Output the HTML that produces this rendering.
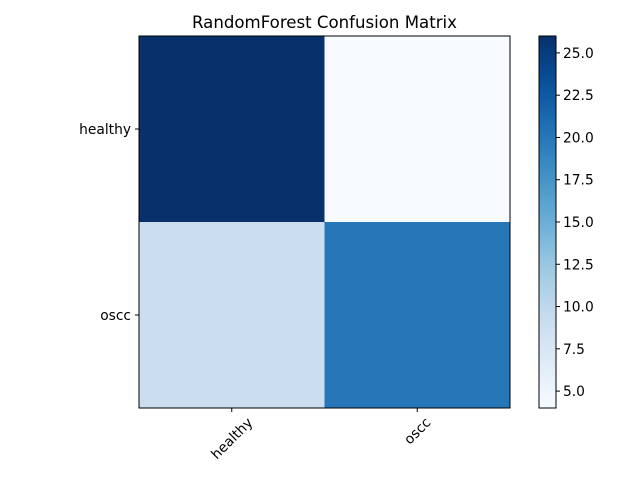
<!DOCTYPE html>
<html><head><meta charset="utf-8"><style>
body{margin:0;background:#fff;font-family:"Liberation Sans","DejaVu Sans",sans-serif;}
svg text{font-family:"DejaVu Sans","Liberation Sans",sans-serif;fill:#000;}
</style></head><body>
<svg id="c" width="640" height="480" xmlns="http://www.w3.org/2000/svg">
<defs><linearGradient id="g" x1="0" y1="1" x2="0" y2="0"></linearGradient></defs>
</svg>
<script>
const categories=["healthy","oscc"];
const rowHealthy=[26,4];
const rowOscc=[9,20];
const cbTicks=[5.0,7.5,10.0,12.5,15.0,17.5,20.0,22.5,25.0];
const title="RandomForest Confusion Matrix";
const matrix=[rowHealthy,rowOscc];
const NS="http://www.w3.org/2000/svg";
const svg=document.getElementById('c');
const blues=["#f7fbff","#deebf7","#c6dbef","#9ecae1","#6baed6","#4292c6","#2171b5","#08519c","#08306b"];
function hex(h){return [1,3,5].map(i=>parseInt(h.substr(i,2),16));}
function cmap(t){t=Math.max(0,Math.min(1,t));const p=t*8,i=Math.min(7,Math.floor(p)),f=p-i;const a=hex(blues[i]),b=hex(blues[i+1]);return "rgb("+a.map((v,k)=>Math.round(v+(b[k]-v)*f)).join(",")+")";}
const all=matrix.flat();const vmin=Math.min(...all),vmax=Math.max(...all);
const L=139,T=36,W=371,H=372,FS=13.8;
const n=categories.length,cw=W/n,ch=H/n;
function mk(tag,attrs,parent){const e=document.createElementNS(NS,tag);for(const k in attrs)e.setAttribute(k,attrs[k]);(parent||svg).appendChild(e);return e;}
matrix.forEach((row,r)=>row.forEach((v,c)=>{
const e=mk('rect',{x:L+c*cw,y:T+r*ch,width:cw+0.5,height:ch+0.5,fill:cmap((v-vmin)/(vmax-vmin))});


}));
const fr=mk('rect',{x:L,y:T,width:W,height:H,fill:'none',stroke:'#000','stroke-width':1});

categories.forEach((lab,i)=>{
const y=T+(i+0.5)*ch;
mk('line',{x1:L-4,x2:L,y1:y,y2:y,stroke:'#000'});
const t=mk('text',{x:L-8,y:y+5,'text-anchor':'end','font-size':FS});t.textContent=lab;

const x=L+(i+0.5)*cw;
mk('line',{x1:x,x2:x,y1:T+H,y2:T+H+4,stroke:'#000'});
const t2=mk('text',{x:x,y:0,'text-anchor':'middle','font-size':FS});t2.textContent=lab;
const len=t2.getComputedTextLength();
const cy=T+H+7+(len+FS)*0.7071/2;
t2.setAttribute('y',cy+FS*0.35);
t2.setAttribute('transform','rotate(-45 '+x+' '+cy+')');

});
const tt=mk('text',{x:L+W/2,y:T-8,'text-anchor':'middle','font-size':16.6});tt.textContent=title;

const g=document.getElementById('g');
for(let i=0;i<=20;i++){mk('stop',{offset:i/20,'stop-color':cmap(i/20)},g);}
const CX=539,CW=17;
const cb=mk('rect',{x:CX,y:T,width:CW,height:H,fill:'url(#g)',stroke:'#000'});

cbTicks.forEach(v=>{
const y=T+H-(v-vmin)/(vmax-vmin)*H;
mk('line',{x1:CX+CW,x2:CX+CW+4,y1:y,y2:y,stroke:'#000'});
const t=mk('text',{x:CX+CW+7,y:y+5,'font-size':FS});t.textContent=v.toFixed(1);

});
</script>
</body></html>
